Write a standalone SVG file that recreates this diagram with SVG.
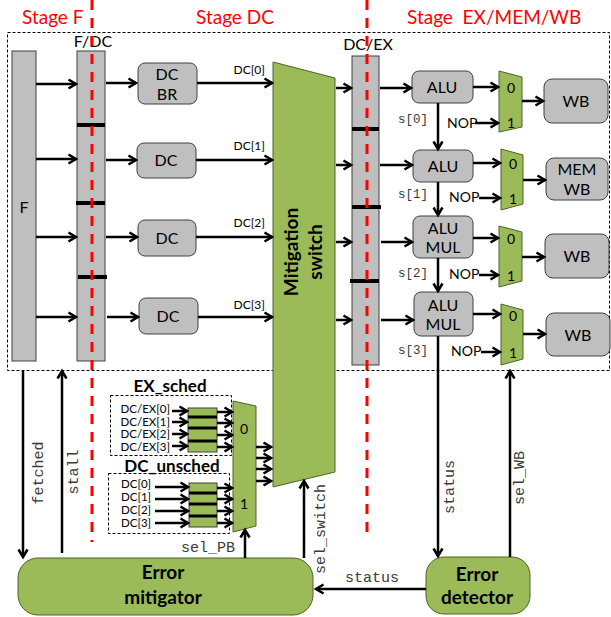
<svg xmlns="http://www.w3.org/2000/svg" width="611" height="617" viewBox="0 0 611 617">
<defs>
<style>
.stage{font-family:Lato,"Liberation Sans",sans-serif;font-size:19px;fill:#FF0000}
.t{font-family:Lato,"Liberation Sans",sans-serif;fill:#000}
.b{font-family:Lato,"Liberation Sans",sans-serif;font-weight:bold;fill:#000}
.m{font-family:"Liberation Mono","Courier New",monospace;fill:#3a3a3a}
.gray{fill:#BFBFBF;stroke:#404040;stroke-width:1}
.green{fill:#9BBB59;stroke:#4F6228;stroke-width:1}
.reg{fill:#9BBB59;stroke:#404040;stroke-width:1}
.red{stroke:#FF0000;stroke-width:3;stroke-dasharray:10 8;fill:none}
.dot{fill:none;stroke:#000;stroke-width:1;stroke-dasharray:3 2}
.sep{stroke:#000;stroke-width:4}
.sep2{stroke:#000;stroke-width:3}
.a{stroke:#000;stroke-width:2.5;fill:none;marker-end:url(#ah)}
.lab{font-size:11.5px}
</style>
<marker id="ah" markerWidth="12" markerHeight="12" refX="9" refY="6" orient="auto" markerUnits="userSpaceOnUse">
<path d="M1.5,1.5 L9,6 L1.5,10.5" fill="none" stroke="#000" stroke-width="2.5"/>
</marker>
</defs>
<rect width="611" height="617" fill="#fff"/>

<g id="stage-labels">
<text class="stage" x="22" y="24">Stage F</text>
<text class="stage" x="196" y="24">Stage DC</text>
<text class="stage" x="407" y="24" xml:space="preserve">Stage  EX/MEM/WB</text>
</g>

<g id="pipeline-boundary">
<rect class="dot" x="7.5" y="32.5" width="602" height="338"/>
</g>

<g id="F">
<rect class="gray" x="12" y="51" width="24" height="310"/>
<text class="t" x="24" y="213" font-size="16" text-anchor="middle">F</text>
</g>

<g id="F-DC">
<text class="t" x="93" y="47" font-size="16" text-anchor="middle">F/DC</text>
<rect class="gray" x="77" y="51" width="28" height="310"/>
<line class="sep" x1="77" y1="125" x2="105" y2="125"/>
<line class="sep" x1="76" y1="203" x2="105" y2="203"/>
<line class="sep" x1="78" y1="277" x2="107" y2="277"/>
</g>

<g id="DC0">
<rect class="gray" x="138" y="63" width="59" height="41" rx="7"/>
<text class="t" x="167" y="80" font-size="16" text-anchor="middle">DC</text>
<text class="t" x="167" y="100" font-size="16" text-anchor="middle">BR</text>
</g>
<g id="DC1">
<rect class="gray" x="137" y="143" width="59" height="35" rx="7"/>
<text class="t" x="166" y="166" font-size="16" text-anchor="middle">DC</text>
</g>
<g id="DC2">
<rect class="gray" x="138" y="220" width="58" height="36" rx="7"/>
<text class="t" x="167" y="244" font-size="16" text-anchor="middle">DC</text>
</g>
<g id="DC3">
<rect class="gray" x="139" y="298" width="59" height="36" rx="7"/>
<text class="t" x="168" y="322" font-size="16" text-anchor="middle">DC</text>
</g>

<g id="mitigation-switch">
<polygon class="green" points="273,62 335,78 335,472 273,487"/>
<text class="b" font-size="19" text-anchor="middle" transform="translate(298,252) rotate(-90)">Mitigation</text>
<text class="b" font-size="19" text-anchor="middle" transform="translate(322,252) rotate(-90)">switch</text>
</g>

<g id="DC-EX">
<text class="t" x="368" y="50" font-size="16" text-anchor="middle">DC/EX</text>
<rect class="gray" x="352" y="56" width="27" height="309"/>
<line class="sep" x1="352" y1="129" x2="379" y2="129"/>
<line class="sep" x1="352" y1="207" x2="381" y2="207"/>
<line class="sep" x1="350" y1="281" x2="379" y2="281"/>
</g>

<g id="stage-dividers">
<line class="red" x1="92" y1="0" x2="92" y2="542"/>
<line class="red" x1="367" y1="0" x2="367" y2="533"/>
</g>

<g id="ALU0">
<rect class="gray" x="412" y="71" width="61" height="32" rx="7"/>
<text class="t" x="442" y="93" font-size="16" text-anchor="middle">ALU</text>
</g>
<g id="ALU1">
<rect class="gray" x="413" y="150" width="60" height="32" rx="7"/>
<text class="t" x="443" y="172" font-size="16" text-anchor="middle">ALU</text>
</g>
<g id="ALU2">
<rect class="gray" x="413" y="216" width="60" height="42" rx="7"/>
<text class="t" x="443" y="234" font-size="16" text-anchor="middle">ALU</text>
<text class="t" x="443" y="253" font-size="16" text-anchor="middle">MUL</text>
</g>
<g id="ALU3">
<rect class="gray" x="414" y="292" width="59" height="44" rx="7"/>
<text class="t" x="443" y="311" font-size="16" text-anchor="middle">ALU</text>
<text class="t" x="443" y="330" font-size="16" text-anchor="middle">MUL</text>
</g>

<g id="MUX0">
<polygon class="green" points="499,71 522,77 522,127 499,132"/>
<text class="t" x="511" y="93" font-size="14" text-anchor="middle">0</text>
<text class="t" x="511" y="128" font-size="14" text-anchor="middle">1</text>
</g>
<g id="MUX1">
<polygon class="green" points="501,149 523,155 523,204 501,210"/>
<text class="t" x="513" y="169" font-size="14" text-anchor="middle">0</text>
<text class="t" x="513" y="204" font-size="14" text-anchor="middle">1</text>
</g>
<g id="MUX2">
<polygon class="green" points="499,226 522,232 522,281 499,287"/>
<text class="t" x="511" y="244" font-size="14" text-anchor="middle">0</text>
<text class="t" x="511" y="281" font-size="14" text-anchor="middle">1</text>
</g>
<g id="MUX3">
<polygon class="green" points="501,304 523,310 523,359 501,365"/>
<text class="t" x="513" y="321" font-size="14" text-anchor="middle">0</text>
<text class="t" x="513" y="358" font-size="14" text-anchor="middle">1</text>
</g>

<g id="WB0">
<rect class="gray" x="544" y="79" width="64" height="44" rx="8"/>
<text class="t" x="576" y="107" font-size="16" text-anchor="middle">WB</text>
</g>
<g id="MEMWB1">
<rect class="gray" x="546" y="158" width="62" height="42" rx="8"/>
<text class="t" x="577" y="175" font-size="16" text-anchor="middle">MEM</text>
<text class="t" x="577" y="195" font-size="16" text-anchor="middle">WB</text>
</g>
<g id="WB2">
<rect class="gray" x="545" y="234" width="64" height="44" rx="8"/>
<text class="t" x="577" y="262" font-size="16" text-anchor="middle">WB</text>
</g>
<g id="WB3">
<rect class="gray" x="546" y="313" width="64" height="43" rx="8"/>
<text class="t" x="578" y="341" font-size="16" text-anchor="middle">WB</text>
</g>

<g id="EX_sched">
<text class="b" x="170" y="392" font-size="17" text-anchor="middle">EX_sched</text>
<rect class="dot" x="110.5" y="395.5" width="121" height="60"/>
<text class="t lab" x="170" y="413" text-anchor="end">DC/EX[0]</text>
<text class="t lab" x="170" y="425.5" text-anchor="end">DC/EX[1]</text>
<text class="t lab" x="170" y="438" text-anchor="end">DC/EX[2]</text>
<text class="t lab" x="170" y="450.5" text-anchor="end">DC/EX[3]</text>
<rect class="reg" x="188" y="408" width="29" height="44"/>
<line class="sep2" x1="188" y1="417" x2="217" y2="417"/>
<line class="sep2" x1="188" y1="428" x2="217" y2="428"/>
<line class="sep2" x1="188" y1="441" x2="217" y2="441"/>
</g>

<g id="DC_unsched">
<text class="b" x="172" y="472" font-size="17" text-anchor="middle">DC_unsched</text>
<rect class="dot" x="108.5" y="473.5" width="121" height="60"/>
<text class="t lab" x="121" y="488">DC[0]</text>
<text class="t lab" x="121" y="501">DC[1]</text>
<text class="t lab" x="121" y="514">DC[2]</text>
<text class="t lab" x="121" y="527">DC[3]</text>
<rect class="reg" x="189" y="483" width="28" height="44"/>
<line class="sep2" x1="189" y1="493" x2="217" y2="493"/>
<line class="sep2" x1="189" y1="504" x2="217" y2="504"/>
<line class="sep2" x1="189" y1="516" x2="217" y2="516"/>
</g>

<g id="MUX_PB">
<polygon class="green" points="233,401 256,406 256,526 233,532"/>
<text class="t" x="244" y="434" font-size="14" text-anchor="middle">0</text>
<text class="t" x="244" y="509" font-size="14" text-anchor="middle">1</text>
</g>

<g id="error-mitigator">
<rect class="green" x="18" y="558" width="295" height="57" rx="20" stroke="#404040"/>
<text class="b" x="163" y="579" font-size="19" text-anchor="middle">Error</text>
<text class="b" x="163" y="604" font-size="19" text-anchor="middle">mitigator</text>
</g>

<g id="error-detector">
<rect class="green" x="426" y="557" width="104" height="57" rx="18" stroke="#404040"/>
<text class="b" x="477" y="581" font-size="19" text-anchor="middle">Error</text>
<text class="b" x="477" y="604" font-size="19" text-anchor="middle">detector</text>
</g>

<g id="connectors">
<line class="a" x1="36" y1="84" x2="76" y2="84"/>
<line class="a" x1="36" y1="159" x2="76" y2="159"/>
<line class="a" x1="36" y1="237" x2="76" y2="237"/>
<line class="a" x1="36" y1="317" x2="76" y2="317"/>
<line class="a" x1="106" y1="83" x2="136" y2="83"/>
<line class="a" x1="106" y1="160" x2="136" y2="160"/>
<line class="a" x1="106" y1="237" x2="137" y2="237"/>
<line class="a" x1="107" y1="317" x2="138" y2="317"/>
<line class="a" x1="197" y1="83" x2="272" y2="83"/>
<line class="a" x1="196" y1="160" x2="272" y2="160"/>
<line class="a" x1="196" y1="237" x2="272" y2="237"/>
<line class="a" x1="198" y1="317" x2="272" y2="317"/>
<text class="t" x="265" y="74" font-size="12" text-anchor="end">DC[0]</text>
<text class="t" x="265" y="150" font-size="12" text-anchor="end">DC[1]</text>
<text class="t" x="265" y="227" font-size="12" text-anchor="end">DC[2]</text>
<text class="t" x="265" y="309" font-size="12" text-anchor="end">DC[3]</text>
<line class="a" x1="336" y1="88" x2="351" y2="88"/>
<line class="a" x1="336" y1="165" x2="351" y2="165"/>
<line class="a" x1="336" y1="242" x2="351" y2="242"/>
<line class="a" x1="336" y1="320" x2="351" y2="320"/>
<line class="a" x1="380" y1="88" x2="411" y2="88"/>
<line class="a" x1="380" y1="165" x2="412" y2="165"/>
<line class="a" x1="381" y1="242" x2="412" y2="242"/>
<line class="a" x1="381" y1="320" x2="413" y2="320"/>
<line class="a" x1="473" y1="87" x2="498" y2="87"/>
<line class="a" x1="473" y1="163" x2="500" y2="163"/>
<line class="a" x1="473" y1="238" x2="498" y2="238"/>
<line class="a" x1="473" y1="314" x2="500" y2="314"/>
<text class="t" x="447" y="128" font-size="14">NOP</text>
<text class="t" x="449" y="202" font-size="14">NOP</text>
<text class="t" x="449" y="279" font-size="14">NOP</text>
<text class="t" x="451" y="356" font-size="14">NOP</text>
<line class="a" x1="475" y1="123" x2="498" y2="123"/>
<line class="a" x1="479" y1="198" x2="500" y2="198"/>
<line class="a" x1="479" y1="275" x2="498" y2="275"/>
<line class="a" x1="481" y1="352" x2="500" y2="352"/>
<line class="a" x1="522" y1="101" x2="543" y2="101"/>
<line class="a" x1="523" y1="180" x2="545" y2="180"/>
<line class="a" x1="522" y1="257" x2="544" y2="257"/>
<line class="a" x1="523" y1="334" x2="545" y2="334"/>
<line class="a" x1="438" y1="103" x2="438" y2="149"/>
<line class="a" x1="438" y1="182" x2="438" y2="215"/>
<line class="a" x1="438" y1="258" x2="438" y2="291"/>
<line class="a" x1="438" y1="336" x2="438" y2="556"/>
<text class="m" x="398" y="123" font-size="12.5">s[0]</text>
<text class="m" x="398" y="198" font-size="12.5">s[1]</text>
<text class="m" x="398" y="277" font-size="12.5">s[2]</text>
<text class="m" x="398" y="354" font-size="12.5">s[3]</text>
<text class="m" font-size="15" text-anchor="middle" transform="translate(454,487) rotate(-90)">status</text>
<line class="a" x1="510" y1="557" x2="510" y2="371"/>
<text class="m" font-size="15" text-anchor="middle" transform="translate(524,478) rotate(-90)">sel_WB</text>
<line class="a" x1="426" y1="589" x2="316" y2="589"/>
<text class="m" x="372" y="582" font-size="15" text-anchor="middle">status</text>
<line class="a" x1="304" y1="558" x2="304" y2="481"/>
<text class="m" font-size="15" text-anchor="middle" transform="translate(325,529) rotate(-90)">sel_switch</text>
<line class="a" x1="245" y1="558" x2="245" y2="530"/>
<text class="m" x="208" y="552" font-size="15" text-anchor="middle">sel_PB</text>
<line class="a" x1="23" y1="371" x2="23" y2="557"/>
<text class="m" font-size="15" text-anchor="middle" transform="translate(43,473) rotate(-90)">fetched</text>
<line class="a" x1="62" y1="553" x2="62" y2="371"/>
<text class="m" font-size="15" text-anchor="middle" transform="translate(78,472) rotate(-90)">stall</text>
<line class="a" x1="172" y1="411" x2="187" y2="411"/>
<line class="a" x1="172" y1="422" x2="187" y2="422"/>
<line class="a" x1="172" y1="434" x2="187" y2="434"/>
<line class="a" x1="172" y1="446" x2="187" y2="446"/>
<line class="a" x1="217" y1="412" x2="232" y2="412"/>
<line class="a" x1="217" y1="423" x2="232" y2="423"/>
<line class="a" x1="217" y1="435" x2="232" y2="435"/>
<line class="a" x1="217" y1="447" x2="232" y2="447"/>
<line class="a" x1="155" y1="487" x2="188" y2="487"/>
<line class="a" x1="155" y1="499" x2="188" y2="499"/>
<line class="a" x1="155" y1="511" x2="188" y2="511"/>
<line class="a" x1="155" y1="523" x2="188" y2="523"/>
<line class="a" x1="217" y1="488" x2="232" y2="488"/>
<line class="a" x1="217" y1="499" x2="232" y2="499"/>
<line class="a" x1="217" y1="511" x2="232" y2="511"/>
<line class="a" x1="217" y1="523" x2="232" y2="523"/>
<line class="a" x1="256" y1="447" x2="271" y2="447"/>
<line class="a" x1="256" y1="458" x2="271" y2="458"/>
<line class="a" x1="256" y1="469" x2="271" y2="469"/>
<line class="a" x1="256" y1="481" x2="271" y2="481"/>
</g>
</svg>
